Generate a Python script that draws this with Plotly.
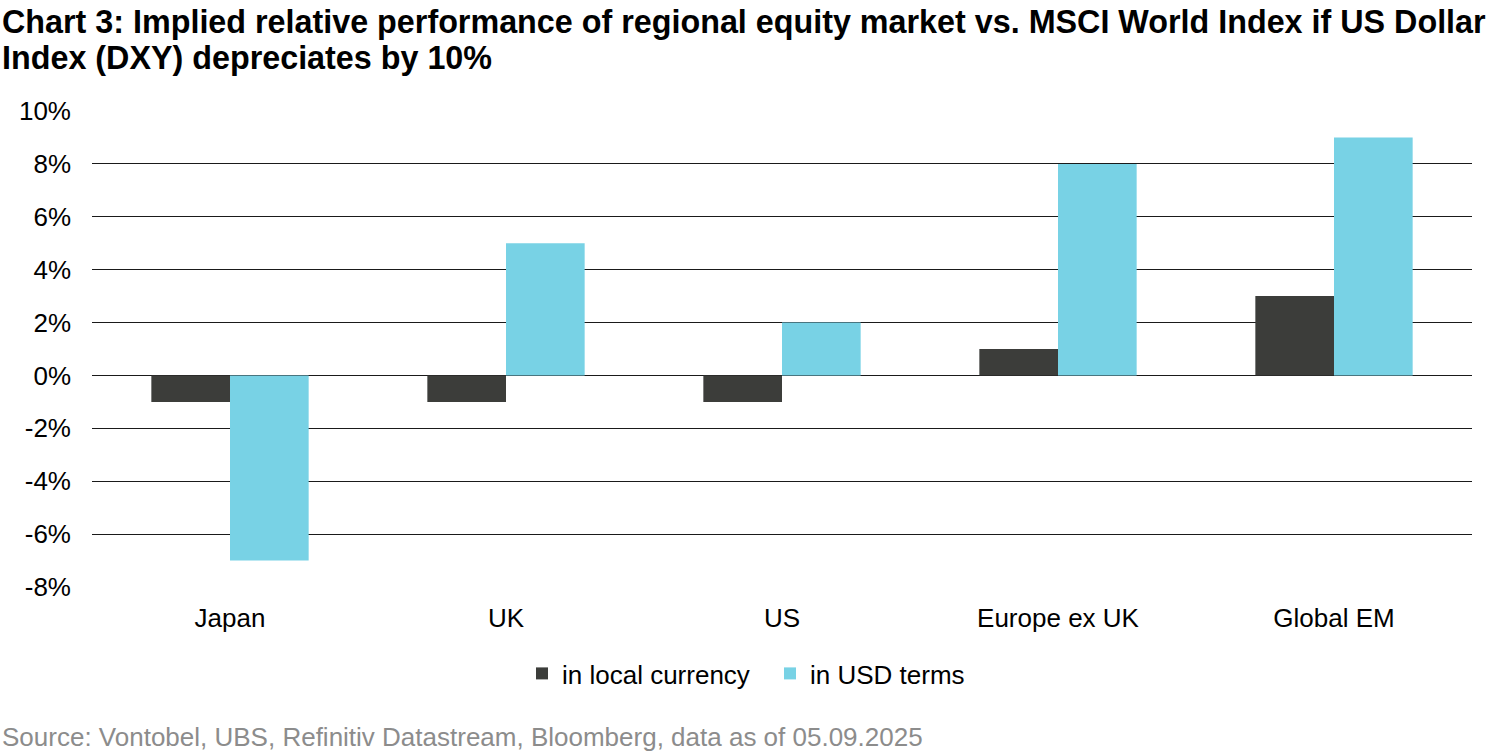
import plotly.graph_objects as go

categories = ["Japan", "UK", "US", "Europe ex UK", "Global EM"]
local_currency = [-1, -1, -1, 1, 3]
usd_terms = [-7, 5, 2, 8, 9]
tick_vals = [-8, -6, -4, -2, 0, 2, 4, 6, 8, 10]
tick_text = ["-8%", "-6%", "-4%", "-2%", "0%", "2%", "4%", "6%", "8%", "10%"]

title_line1 = "Chart 3: Implied relative performance of regional equity market vs. MSCI World Index if US Dollar"
title_line2 = "Index (DXY) depreciates by 10%"
source_text = "Source: Vontobel, UBS, Refinitiv Datastream, Bloomberg, data as of 05.09.2025"

FONT = "Liberation Sans, Arial, sans-serif"
L, T, B = 92, 111, 164
PW, PH = 1500 - L - 28, 751 - T - B


def px_y(y):
    return 1 - (y - T) / PH


fig = go.Figure()
fig.add_trace(go.Bar(x=categories, y=local_currency, name="in local currency",
                     marker=dict(color="#3c3d3a", line=dict(width=0))))
fig.add_trace(go.Bar(x=categories, y=usd_terms, name="in USD terms",
                     marker=dict(color="#78d2e5", line=dict(width=0))))

fig.update_layout(
    width=1500, height=751,
    barmode="group", bargap=0.43, bargroupgap=0,
    plot_bgcolor="white", paper_bgcolor="white",
    margin=dict(l=L, r=28, t=T, b=B),
    font=dict(family=FONT, size=26, color="#000000"),
    showlegend=True,
    legend=dict(orientation="h", x=(522 - L) / PW, xanchor="left", y=px_y(650), yanchor="top",
                font=dict(size=26), traceorder="normal", entrywidth=203, entrywidthmode="pixels"),
    xaxis=dict(showgrid=False, showline=False, ticks="", tickfont=dict(size=26),
               ticklabelstandoff=13),
    yaxis=dict(range=[-8, 10], tickvals=tick_vals, ticktext=tick_text, showgrid=True,
               gridcolor="#1a1a1a", gridwidth=1.3, zeroline=True, zerolinecolor="#1a1a1a",
               zerolinewidth=1.3, showline=False, ticks="", tickfont=dict(size=26),
               ticklabelstandoff=20),
    annotations=[
        dict(text="<b>" + title_line1 + "</b>", xref="paper", yref="paper", x=-L / PW, xanchor="left",
             y=px_y(22), yanchor="middle", showarrow=False,
             font=dict(family=FONT, size=32.3, color="#000000")),
        dict(text="<b>" + title_line2 + "</b>", xref="paper", yref="paper", x=-L / PW, xanchor="left",
             y=px_y(58), yanchor="middle", showarrow=False,
             font=dict(family=FONT, size=32.3, color="#000000")),
        dict(text=source_text, xref="paper", yref="paper", x=-L / PW, xanchor="left",
             y=px_y(737), yanchor="middle", showarrow=False,
             font=dict(family=FONT, size=26, color="#8c8c8c")),
    ],
)

fig.write_html("out.html", config={"displayModeBar": False},
               post_script="document.body.style.margin='0';")
